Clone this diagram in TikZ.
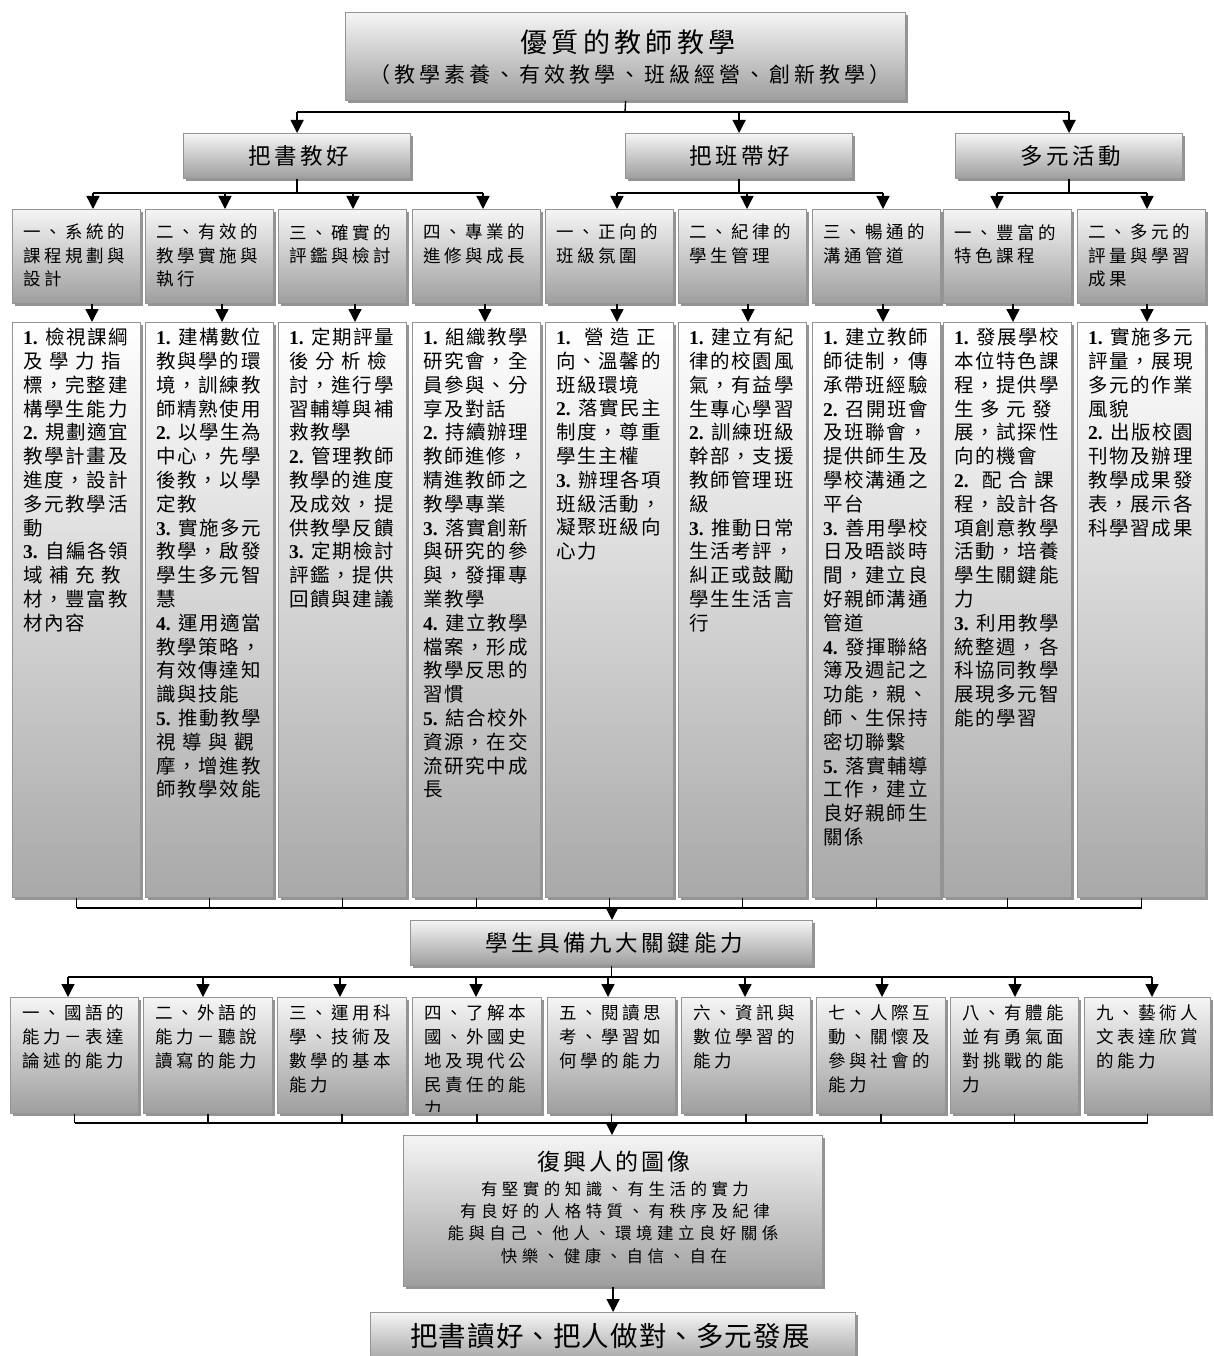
\documentclass[tikz,border=0pt]{standalone}
\usepackage{fontspec}
\setmainfont{Liberation Serif}
\newfontfamily\cjkD[LetterSpace=9]{Noto Sans CJK TC}
\newfontfamily\cjkH[LetterSpace=20]{Noto Sans CJK TC}
\newfontfamily\cjkT[LetterSpace=16]{Noto Sans CJK TC}
\newfontfamily\cjkS[LetterSpace=19]{Noto Sans CJK TC}
\newfontfamily\cjkG[LetterSpace=13]{Noto Sans CJK TC}
\newfontfamily\cjkR[LetterSpace=27]{Noto Sans CJK TC}
\newfontfamily\cjkF[LetterSpace=4]{Noto Sans CJK TC}
\usetikzlibrary{arrows.meta,shadows,calc}
\newcommand\nm[1]{\makebox[22pt][l]{\normalfont\bfseries #1.}}
\newcommand\sline[1]{\makebox[106.4pt][s]{#1}}
\begin{document}
\begin{tikzpicture}[x=1pt,y=-1pt,
  box/.style={draw=black!42, line width=1.2pt, top color=black!4, bottom color=black!38,
    drop shadow={shadow xshift=2.5pt,shadow yshift=-2.5pt,fill=black!60,opacity=0.7},
    inner sep=0pt, anchor=north west},
  dbox/.style={box, top color=white, bottom color=black!34},
  conn/.style={line width=1.4pt, black},
  arr/.style={conn, -{Triangle[width=13pt,length=13pt]}},
  dtxt/.style={anchor=north west, inner sep=0pt, align=left, text width=112pt,
    font=\cjkD\fontsize{19.5}{23.8}\selectfont},
  htxt/.style={anchor=north west, inner sep=0pt, align=left, text width=112pt,
    font=\cjkH\fontsize{17.5}{23.5}\selectfont},
  atxt/.style={anchor=north west, inner sep=0pt, align=left, text width=112pt,
    font=\cjkH\fontsize{17.5}{24}\selectfont},
  ttxt/.style={inner sep=0pt, font=\cjkT\fontsize{22.5}{26}\selectfont},
  rtxt/.style={inner sep=0pt, font=\cjkR\fontsize{16.5}{20}\selectfont},
]
\useasboundingbox (0,0) rectangle (1213,1356);

% ---------- top ----------
\node[box, minimum width=560pt, minimum height=88pt] (T) at (345,12) {};
\node[inner sep=0pt, font=\cjkT\fontsize{27}{30}\selectfont] (t1) at (628,42) {優質的教師教學};
\node[inner sep=0pt, font=\cjkS\fontsize{21}{24}\selectfont] (t2) at (630,75) {（教學素養、有效教學、班級經營、創新教學）};

% ---------- level 2 ----------
\node[box, minimum width=227pt, minimum height=45pt] (B1) at (183,133) {};
\node[box, minimum width=227pt, minimum height=45pt] (B2) at (625,133) {};
\node[box, minimum width=227pt, minimum height=45pt] (B3) at (955,133) {};
\node[ttxt] (b1t) at (299,156) {把書教好};
\node[ttxt] (b2t) at (740,156) {把班帶好};
\node[ttxt] (b3t) at (1071,156) {多元活動};

% ---------- level 3 headers ----------
\foreach \i/\x in {1/12,2/145,3/278,4/412,5/545,6/678,7/812,8/943,9/1077}{
  \node[box, minimum width=128pt, minimum height=94pt] (H\i) at (\x,209) {};
  \node[dbox, minimum width=128pt, minimum height=575pt] (D\i) at (\x,322) {};
}
\node[htxt] (h1t) at (23,224) {一、系統的\\課程規劃與\\設計};
\node[htxt] (h2t) at (156,224) {二、有效的\\教學實施與\\執行};
\node[htxt] (h3t) at (289,224) {三、確實的\\評鑑與檢討};
\node[htxt] (h4t) at (423,224) {四、專業的\\進修與成長};
\node[htxt] (h5t) at (556,224) {一、正向的\\班級氛圍};
\node[htxt] (h6t) at (689,224) {二、紀律的\\學生管理};
\node[htxt] (h7t) at (823,224) {三、暢通的\\溝通管道};
\node[htxt] (h8t) at (954,224) {一、豐富的\\特色課程};
\node[htxt] (h9t) at (1088,224) {二、多元的\\評量與學習\\成果};

% ---------- detail texts ----------
\node[dtxt] (d1t) at (23,328) {\nm{1}檢視課綱\\
\sline{及 學 力 指}\\
標，完整建\\
構學生能力\\
\nm{2}規劃適宜\\
教學計畫及\\
進度，設計\\
多元教學活\\
動\\
\nm{3}自編各領\\
\sline{域 補 充 教}\\
材，豐富教\\
材內容};
\node[dtxt] (d2t) at (156,328) {\nm{1}建構數位\\
教與學的環\\
境，訓練教\\
師精熟使用\\
\nm{2}以學生為\\
中心，先學\\
後教，以學\\
定教\\
\nm{3}實施多元\\
教學，啟發\\
學生多元智\\
慧\\
\nm{4}運用適當\\
教學策略，\\
有效傳達知\\
識與技能\\
\nm{5}推動教學\\
\sline{視 導 與 觀}\\
摩，增進教\\
師教學效能};
\node[dtxt] (d3t) at (289,328) {\nm{1}定期評量\\
\sline{後 分 析 檢}\\
討，進行學\\
習輔導與補\\
救教學\\
\nm{2}管理教師\\
教學的進度\\
及成效，提\\
供教學反饋\\
\nm{3}定期檢討\\
評鑑，提供\\
回饋與建議};
\node[dtxt] (d4t) at (423,328) {\nm{1}組織教學\\
研究會，全\\
員參與、分\\
享及對話\\
\nm{2}持續辦理\\
教師進修，\\
精進教師之\\
教學專業\\
\nm{3}落實創新\\
與研究的參\\
與，發揮專\\
業教學\\
\nm{4}建立教學\\
檔案，形成\\
教學反思的\\
習慣\\
\nm{5}結合校外\\
資源，在交\\
流研究中成\\
長};
\node[dtxt] (d5t) at (556,328) {\sline{\nm{1} 營 造 正}\\
向、溫馨的\\
班級環境\\
\nm{2}落實民主\\
制度，尊重\\
學生主權\\
\nm{3}辦理各項\\
班級活動，\\
凝聚班級向\\
心力};
\node[dtxt] (d6t) at (689,328) {\nm{1}建立有紀\\
律的校園風\\
氣，有益學\\
生專心學習\\
\nm{2}訓練班級\\
幹部，支援\\
教師管理班\\
級\\
\nm{3}推動日常\\
生活考評，\\
糾正或鼓勵\\
學生生活言\\
行};
\node[dtxt] (d7t) at (823,328) {\nm{1}建立教師\\
師徒制，傳\\
承帶班經驗\\
\nm{2}召開班會\\
及班聯會，\\
提供師生及\\
學校溝通之\\
平台\\
\nm{3}善用學校\\
日及晤談時\\
間，建立良\\
好親師溝通\\
管道\\
\nm{4}發揮聯絡\\
簿及週記之\\
功能，親、\\
師、生保持\\
密切聯繫\\
\nm{5}落實輔導\\
工作，建立\\
良好親師生\\
關係};
\node[dtxt] (d8t) at (954,328) {\nm{1}發展學校\\
本位特色課\\
程，提供學\\
\sline{生 多 元 發}\\
展，試探性\\
向的機會\\
\sline{\nm{2} 配 合 課}\\
程，設計各\\
項創意教學\\
活動，培養\\
學生關鍵能\\
力\\
\nm{3}利用教學\\
統整週，各\\
科協同教學\\
展現多元智\\
能的學習};
\node[dtxt] (d9t) at (1088,328) {\nm{1}實施多元\\
評量，展現\\
多元的作業\\
風貌\\
\nm{2}出版校園\\
刊物及辦理\\
教學成果發\\
表，展示各\\
科學習成果};

% ---------- key competences ----------
\node[box, minimum width=402pt, minimum height=45pt] (K) at (410,920) {};
\node[ttxt] (kt) at (614,943) {學生具備九大關鍵能力};

\foreach \i/\x/\w in {1/10/128,2/143/129,3/277/129,4/412/129,5/547/128,6/681/129,7/816/129,8/950/128,9/1084/126}{
  \node[box, minimum width=\w pt, minimum height=116pt] (A\i) at (\x,997) {};
}
\node[atxt] (a1t) at (22,1005) {一、國語的\\能力－表達\\論述的能力};
\node[atxt] (a2t) at (155,1005) {二、外語的\\能力－聽說\\讀寫的能力};
\node[atxt] (a3t) at (289,1005) {三、運用科\\學、技術及\\數學的基本\\能力};
\begin{scope}
\clip (A4.north west) rectangle ([yshift=3pt]A4.south east);
\node[atxt] (a4t) at (424,1005) {四、了解本\\國、外國史\\地及現代公\\民責任的能\\力};
\end{scope}
\node[atxt] (a5t) at (559,1005) {五、閱讀思\\考、學習如\\何學的能力};
\node[atxt] (a6t) at (693,1005) {六、資訊與\\數位學習的\\能力};
\node[atxt] (a7t) at (828,1005) {七、人際互\\動、關懷及\\參與社會的\\能力};
\node[atxt] (a8t) at (962,1005) {八、有體能\\並有勇氣面\\對挑戰的能\\力};
\node[atxt] (a9t) at (1096,1005) {九、藝術人\\文表達欣賞\\的能力};

% ---------- image ----------
\node[box, minimum width=419pt, minimum height=151pt] (R) at (403,1135) {};
\node[inner sep=0pt, font=\cjkG\fontsize{23}{26}\selectfont] (rt0) at (614,1162) {復興人的圖像};
\node[rtxt] (rt1) at (615,1189) {有堅實的知識、有生活的實力};
\node[rtxt] (rt2) at (615,1211) {有良好的人格特質、有秩序及紀律};
\node[rtxt] (rt3) at (613,1233) {能與自己、他人、環境建立良好關係};
\node[rtxt] (rt4) at (614,1256) {快樂、健康、自信、自在};

\node[box, minimum width=485pt, minimum height=52pt] (F) at (370,1312) {};
\node[inner sep=0pt, font=\cjkF\fontsize{27.5}{30}\selectfont] (ft) at (610,1336) {把書讀好、把人做對、多元發展};

% ---------- connectors ----------
\coordinate (j1) at (625,112);
\draw[conn] (T.south) -- (j1);
\draw[conn] (B1.north |- j1) -- (B3.north |- j1);
\foreach \b in {B1,B2,B3} \draw[arr] (\b.north |- j1) -- (\b.north);

\foreach \i/\x in {1/93,2/225,3/353,4/483,5/617,6/747,7/883,8/997,9/1147}{
  \coordinate (a\i) at (\x,193);
}
\foreach \i/\x in {1/92,2/222,3/355,4/485,5/617,6/748,7/883,8/1013,9/1147}{
  \coordinate (b\i) at (\x,0);
}
\draw[conn] (B1.south) -- (B1.south |- a1);
\draw[conn] (a1) -- (a4);
\draw[conn] (B2.south) -- (B2.south |- a5);
\draw[conn] (a5) -- (a7);
\draw[conn] (B3.south) -- (B3.south |- a8);
\draw[conn] (a8) -- (a9);
\foreach \i in {1,...,9}{
  \draw[arr] (a\i) -- (a\i |- H\i.north);
  \draw[arr] (b\i |- H\i.south) -- (b\i |- D\i.north);
}

\coordinate (dbar) at (612,908);
\foreach \i in {1,...,9} \draw[conn] (D\i.south) -- (D\i.south |- dbar);
\draw[conn] (D1.south |- dbar) -- (D9.south |- dbar);
\draw[arr] (dbar) -- (dbar |- K.north);

\foreach \i/\x in {1/68,2/203,3/340,4/476,5/608,6/745,7/882,8/1015,9/1152}{
  \coordinate (c\i) at (\x,977);
}
\draw[conn] (K.south) -- (K.south |- c1);
\draw[conn] (c1) -- (c9);
\foreach \i in {1,...,9} \draw[arr] (c\i) -- (c\i |- A\i.north);

\coordinate (ebar) at (612,1123);
\foreach \i in {1,...,9} \draw[conn] (A\i.south) -- (A\i.south |- ebar);
\draw[conn] (A1.south |- ebar) -- (A9.south |- ebar);
\draw[arr] (ebar) -- (ebar |- R.north);
\draw[arr] (R.south) -- (R.south |- F.north);
\end{tikzpicture}
\end{document}
